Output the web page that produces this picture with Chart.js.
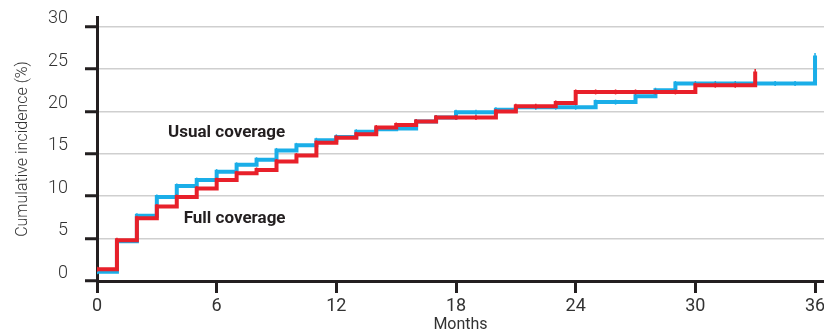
<!DOCTYPE html>
<html>
<head>
<meta charset="utf-8">
<script src="https://cdn.jsdelivr.net/npm/chart.js@4"></script>
<style>
  html, body { margin: 0; padding: 0; background: #fff; }
  #wrap { width: 824px; height: 335px; }
</style>
</head>
<body>
<div id="wrap"><canvas id="incidenceChart"></canvas></div>
<script>
// months 0..35 for usual coverage, 0..32 for full coverage; last entry is the end jump
const usualMonths = [0, 1, 2, 3, 4, 5, 6, 7, 8, 9, 10, 11, 12, 13, 14, 15, 16, 17, 18, 19, 20, 21, 22, 23, 24, 25, 26, 27, 28, 29, 30, 31, 32, 33, 34, 35, 36];
const usualValues = [1.1, 4.7, 7.7, 9.9, 11.2, 11.9, 12.9, 13.7, 14.3, 15.4, 16.0, 16.6, 17.0, 17.6, 17.9, 18.0, 18.8, 19.3, 19.9, 19.9, 20.2, 20.5, 20.5, 20.5, 20.5, 21.1, 21.1, 21.8, 22.5, 23.3, 23.3, 23.3, 23.3, 23.3, 23.3, 23.3, 26.6];

const fullMonths = [0, 1, 2, 3, 4, 5, 6, 7, 8, 9, 10, 11, 12, 13, 14, 15, 16, 17, 18, 19, 20, 21, 22, 23, 24, 25, 26, 27, 28, 29, 30, 31, 32, 33];
const fullValues = [1.4, 4.8, 7.4, 8.8, 9.9, 10.9, 11.9, 12.7, 13.1, 14.1, 14.8, 16.3, 16.9, 17.3, 18.1, 18.4, 18.8, 19.3, 19.3, 19.3, 20.0, 20.6, 20.6, 21.0, 22.3, 22.3, 22.3, 22.3, 22.3, 22.3, 23.1, 23.1, 23.1, 24.7];

const xTicks = [0, 6, 12, 18, 24, 30, 36];
const yTicks = [0, 5, 10, 15, 20, 25, 30];

const toPoints = (xs, ys) => xs.map((x, i) => ({ x: x, y: ys[i] }));

// curve labels, placed in data coordinates
const curveLabels = [
  { text: "Usual coverage", x: 6.5, y: 17.5 },
  { text: "Full coverage", x: 6.9, y: 7.3 },
];

const labelPlugin = {
  id: "curveLabels",
  afterDatasetsDraw(chart) {
    const ctx = chart.ctx;
    const xs = chart.scales.x;
    const ys = chart.scales.y;
    ctx.save();
    ctx.font = "bold 17px Roboto";
    ctx.fillStyle = "#231f20";
    ctx.textAlign = "center";
    ctx.textBaseline = "middle";
    curveLabels.forEach(l => {
      ctx.fillText(l.text, xs.getPixelForValue(l.x), ys.getPixelForValue(l.y));
    });
    ctx.restore();
  },
};

const noPad = s => { s.paddingLeft = 0; s.paddingRight = 0; s.paddingTop = 0; s.paddingBottom = 0; };

const ctx = document.getElementById("incidenceChart").getContext("2d");
const incidenceChart = new Chart(ctx, {
  type: "line",
  data: {
    datasets: [
      {
        label: "Usual coverage",
        data: toPoints(usualMonths, usualValues),
        borderColor: "#1aaee8",
        borderWidth: 4,
        stepped: "before",
        pointStyle: "line",
        rotation: 90,
        pointRadius: 2.5,
        pointBorderWidth: 1.5,
        pointBorderColor: "#1aaee8",
        order: 2,
      },
      {
        label: "Full coverage",
        data: toPoints(fullMonths, fullValues),
        borderColor: "#e8202a",
        borderWidth: 4,
        stepped: "before",
        pointStyle: "line",
        rotation: 90,
        pointRadius: 2.5,
        pointBorderWidth: 1.5,
        pointBorderColor: "#e8202a",
        order: 1,
      },
    ],
  },
  options: {
    responsive: true,
    maintainAspectRatio: false,
    animation: false,
    layout: { autoPadding: false, padding: { top: 17, right: 0, bottom: 0, left: 0 } },
    plugins: {
      legend: { display: false },
      tooltip: { enabled: false },
    },
    scales: {
      x: {
        type: "linear",
        min: 0,
        max: 36.45,
        afterBuildTicks: s => { s.ticks = xTicks.map(v => ({ value: v })); },
        afterFit: s => { s.height = 54; noPad(s); },
        border: { color: "#231f20", width: 3 },
        grid: {
          drawOnChartArea: false,
          tickLength: 12,
          tickColor: "#231f20",
          tickWidth: 3,
        },
        ticks: {
          padding: 3,
          maxRotation: 0,
          color: "#333",
          font: { family: "'Liberation Sans Narrow', 'Roboto'", size: 18 },
        },
        title: {
          display: true,
          text: "Months",
          color: "#333",
          padding: { top: 0, bottom: 0 },
          font: { family: "'Liberation Sans Narrow', 'Roboto'", size: 16 },
        },
      },
      y: {
        min: 0,
        max: 31.14,
        afterBuildTicks: s => { s.ticks = yTicks.map(v => ({ value: v })); },
        afterFit: s => { s.width = 97; noPad(s); },
        border: { color: "#231f20", width: 3 },
        grid: {
          color: "#cfcfcf",
          lineWidth: 1.5,
          tickLength: 12,
          tickColor: "#231f20",
          tickWidth: 3,
        },
        ticks: {
          padding: 17,
          labelOffset: -8,
          color: "#333",
          font: { family: "Roboto", size: 18, weight: 300 },
        },
        title: {
          display: true,
          text: "Cumulative incidence (%)",
          color: "#333",
          padding: { top: 13, bottom: 0 },
          font: { family: "Roboto", size: 16, weight: 300 },
        },
      },
    },
  },
  plugins: [labelPlugin],
});
</script>
</body>
</html>
